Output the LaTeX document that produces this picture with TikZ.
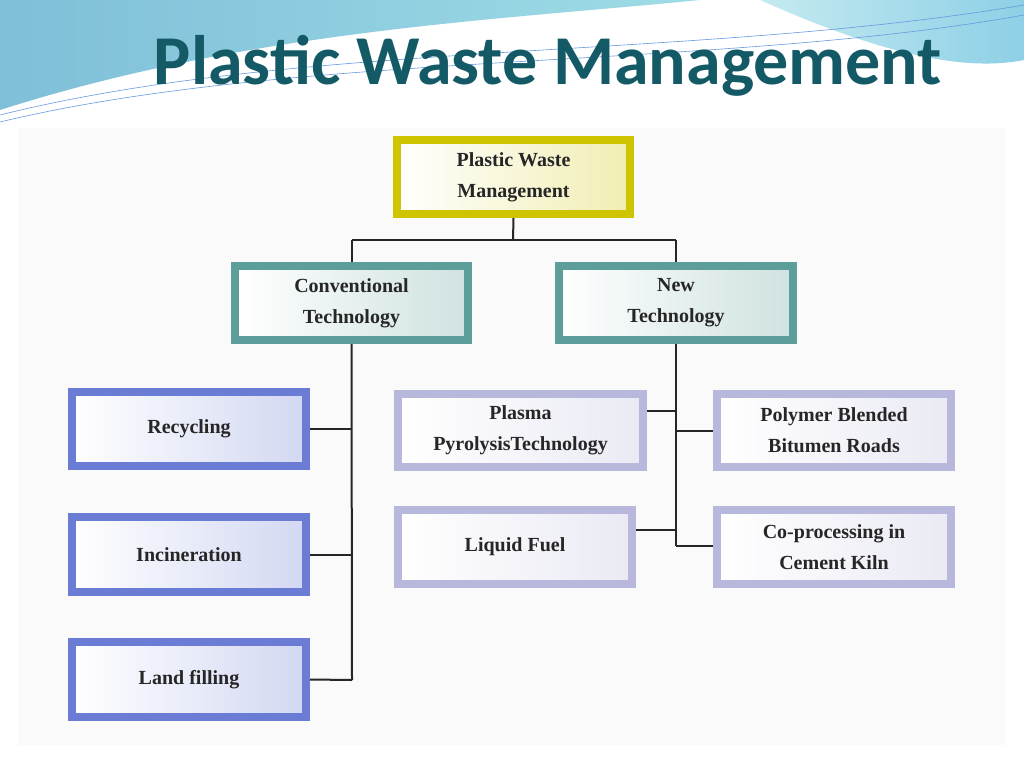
\documentclass[tikz,border=0pt]{standalone}
\usepackage{fontspec}
\setmainfont{Liberation Serif}
\newfontfamily\titlefont{Carlito}
\begin{document}
\begin{tikzpicture}[x=1pt,y=-1pt,
  bx/.style={draw=#1, line width=8pt, left color=white, right color=#1!30, font=\bfseries\fontsize{20}{31}\selectfont, text=black!85, align=center, inner sep=0pt},
  ln/.style={line width=2pt, draw=black!85}]
\definecolor{yel}{HTML}{CFC400}
\definecolor{teal}{HTML}{5E9E9A}
\definecolor{blu}{HTML}{6A7CD4}
\definecolor{lav}{HTML}{B8B8DC}
\definecolor{ttl}{HTML}{135A66}
\definecolor{sw1}{HTML}{7FBFD8}
\definecolor{sw2}{HTML}{9EDCE6}
\definecolor{sw3}{HTML}{8ED0E6}
\useasboundingbox (0,0) rectangle (1024,768);
\fill[white] (0,0) rectangle (1024,768);
% background swooshes
\shade[left color=sw1, right color=sw2] (0,0) -- (700,0) .. controls (500,20) and (250,30) .. (0,110) -- cycle;
\shade[left color=sw2!60, right color=sw3] (760,0) -- (1024,0) -- (1024,60) .. controls (950,75) and (850,40) .. (760,0) -- cycle;
\draw[sw1!80!blue, line width=0.6pt] (0,115) .. controls (300,40) and (700,60) .. (1024,5);
\draw[sw1!80!blue, line width=0.6pt] (0,122) .. controls (300,50) and (720,70) .. (1024,15);
\fill[black!2] (18,128) rectangle (1005,745);
\node[font=\titlefont\bfseries\fontsize{70}{76}\selectfont, text=ttl] (title) at (548,66) {Plastic Waste Management};
% boxes
\node[bx=yel, minimum width=233pt, minimum height=74pt] (pwm) at (513.5,177) {Plastic Waste\\Management};
\node[bx=teal, minimum width=233pt, minimum height=74pt] (conv) at (351.5,303) {Conventional\\Technology};
\node[bx=teal, minimum width=234pt, minimum height=74pt] (new) at (676,303) {New\\Technology};
\node[bx=blu, minimum width=234pt, minimum height=74pt] (rec) at (189,429) {Recycling};
\node[bx=blu, minimum width=234pt, minimum height=75pt] (inc) at (189,554.5) {Incineration};
\node[bx=blu, minimum width=234pt, minimum height=75pt] (land) at (189,679.5) {Land filling};
\node[bx=lav, minimum width=245pt, minimum height=73pt] (pla) at (520.5,430.5) {Plasma\\PyrolysisTechnology};
\node[bx=lav, minimum width=234pt, minimum height=74pt] (liq) at (515,547) {Liquid Fuel};
\node[bx=lav, minimum width=234pt, minimum height=73pt] (pol) at (834,430.5) {Polymer Blended\\Bitumen Roads};
\node[bx=lav, minimum width=234pt, minimum height=74pt] (cop) at (834,547) {Co-processing in\\Cement Kiln};
% connectors
\coordinate (j0) at (513,240);
\coordinate (cv) at (352,680);
\coordinate (nv) at (676,546);
\draw[ln] (pwm.south) -- (j0);
\draw[ln] (conv.north |- j0) -- (new.north |- j0);
\draw[ln] (conv.north |- j0) -- (conv.north);
\draw[ln] (new.north |- j0) -- (new.north);
\draw[ln] (conv.south) -- (cv);
\draw[ln] (rec.east) -- (rec.east -| cv);
\draw[ln] (inc.east) -- (inc.east -| cv);
\draw[ln] (land.east) -- (cv);
\draw[ln] (new.south) -- (nv);
\draw[ln] ([yshift=20pt]pla.east) -- ([yshift=20pt]pla.east -| nv);
\draw[ln] (nv |- pol.west) -- (pol.west);
\draw[ln] ([yshift=17pt]liq.east) -- ([yshift=17pt]liq.east -| nv);
\draw[ln] (nv) -- (nv -| cop.west);
\end{tikzpicture}
\end{document}
